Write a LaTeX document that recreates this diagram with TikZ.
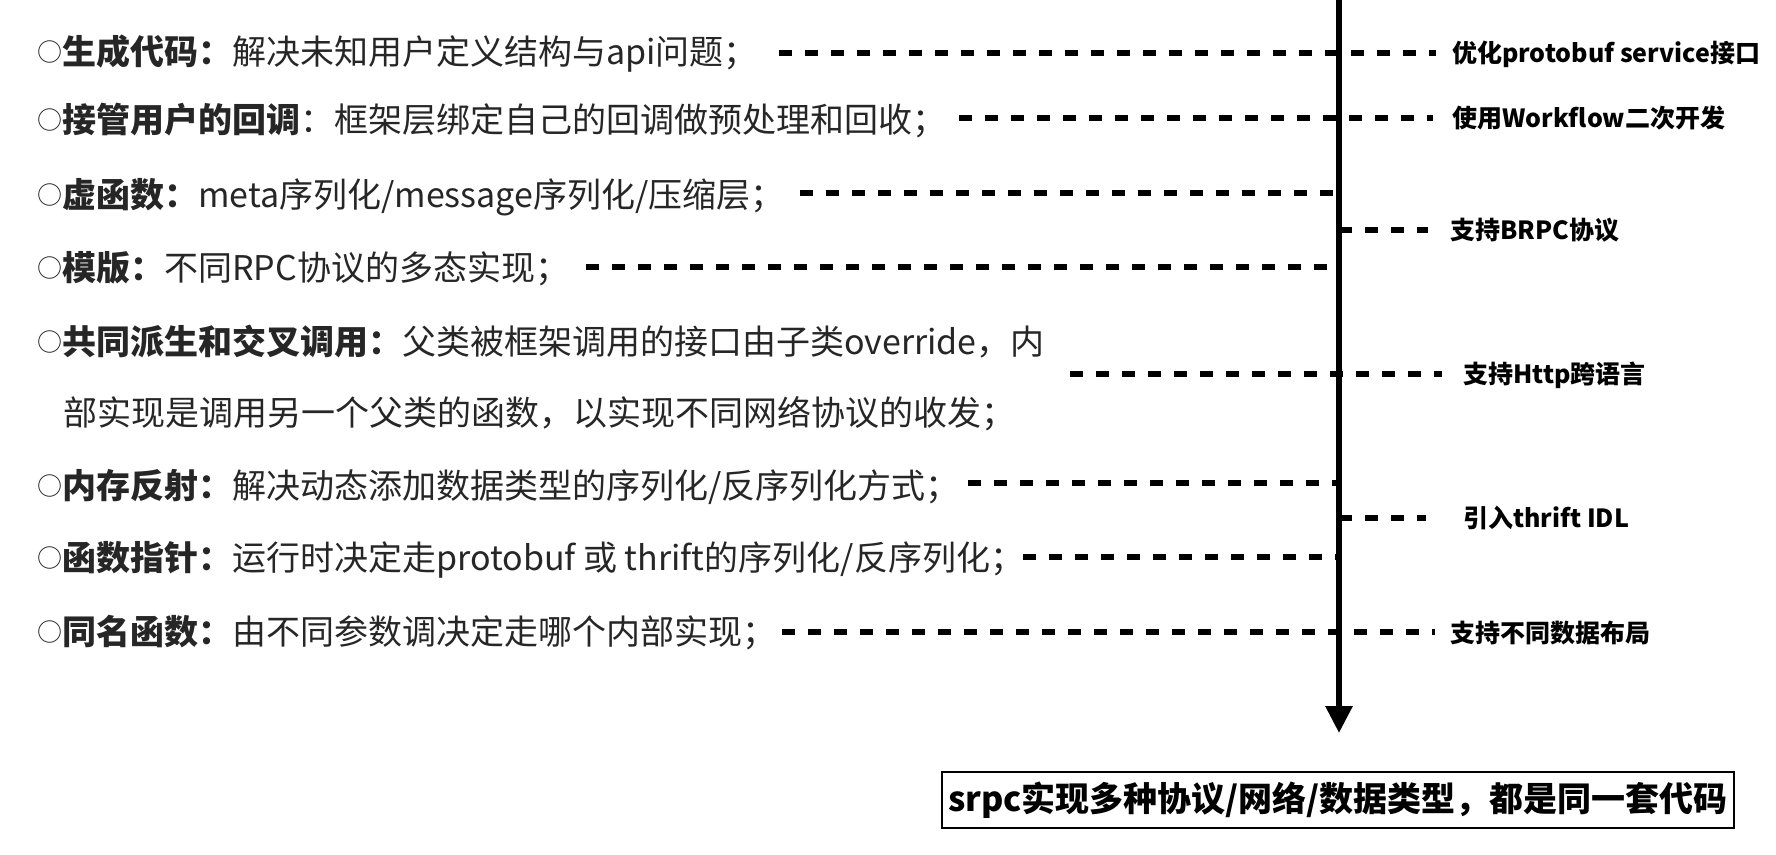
\documentclass[tikz,border=0pt]{standalone}
\usepackage{fontspec}
\setmainfont{Noto Sans CJK SC}
\usetikzlibrary{arrows.meta}
\newcommand{\bul}{\raisebox{3pt}{\fontsize{25}{25}\selectfont ○}}
\begin{document}
\begin{tikzpicture}[x=1pt,y=-1pt,
  item/.style={anchor=west, inner sep=0pt, text=black!85, font=\fontsize{34}{40}\selectfont, text height=30pt, text depth=4pt},
  lbl/.style={anchor=west, inner sep=0pt, font=\bfseries\fontsize{25}{30}\selectfont, text height=22pt, text depth=3pt},
  dashline/.style={line width=5.5pt, dash pattern=on 13pt off 13pt},
  mainline/.style={line width=6pt, -{Triangle[length=27pt,width=26pt]}},
  resultbox/.style={draw, line width=1.5pt, inner sep=0pt, minimum width=792pt, minimum height=56pt, font=\bfseries\fontsize{34}{40}\selectfont}]
\useasboundingbox (0,0) rectangle (1776,854);
% left items
\node[item] (t1) at (37,51) {\bul\textbf{生成代码：}解决未知用户定义结构与api问题；};
\node[item] (t2) at (37,119) {\bul\textbf{接管用户的回调}：框架层绑定自己的回调做预处理和回收；};
\node[item] (t3) at (37,194) {\bul\textbf{虚函数：}meta序列化/message序列化/压缩层；};
\node[item] (t4) at (37,267) {\bul\textbf{模版：}不同RPC协议的多态实现；};
\node[item] (t5) at (37,341) {\bul\textbf{共同派生和交叉调用：}父类被框架调用的接口由子类override，内};
\node[item] (t5b) at (63,412) {部实现是调用另一个父类的函数，以实现不同网络协议的收发；};
\node[item] (t6) at (37,485) {\bul\textbf{内存反射：}解决动态添加数据类型的序列化/反序列化方式；};
\node[item] (t7) at (37,557) {\bul\textbf{函数指针：}运行时决定走protobuf 或 thrift的序列化/反序列化；};
\node[item] (t8) at (37,631) {\bul\textbf{同名函数：}由不同参数调决定走哪个内部实现；};
% right labels
\node[lbl] (r1) at (1452,53) {优化protobuf service接口};
\node[lbl] (r2) at (1452,118) {使用Workflow二次开发};
\node[lbl] (r3) at (1450,230) {支持BRPC协议};
\node[lbl] (r4) at (1463,374) {支持Http跨语言};
\node[lbl] (r5) at (1463,518) {引入thrift IDL};
\node[lbl] (r6) at (1450,633) {支持不同数据布局};
% result box
\node[resultbox] (res) at (1338,800) {srpc实现多种协议/网络/数据类型，都是同一套代码};
% main arrow
\coordinate (top) at (1339,-5);
\coordinate (tip) at (1339,733);
\draw[mainline] (top) -- (tip);
% dash endpoints
\coordinate (a1) at (779,53);  \coordinate (b1) at (1436,53);
\coordinate (a2) at (959,118); \coordinate (b2) at (1433,118);
\coordinate (a3) at (800,193); \coordinate (b3) at (1334,193);
\coordinate (a4) at (1339,230); \coordinate (b4) at (1428,230);
\coordinate (a5) at (586,267); \coordinate (b5) at (1337,267);
\coordinate (a6) at (1070,374); \coordinate (b6) at (1442,374);
\coordinate (a7) at (968,483); \coordinate (b7) at (1337,483);
\coordinate (a8) at (1339,518); \coordinate (b8) at (1426,518);
\coordinate (a9) at (1023,557); \coordinate (b9) at (1337,557);
\coordinate (a10) at (782,632); \coordinate (b10) at (1435,632);
\foreach \i in {1,...,10} {\draw[dashline] (a\i) -- (b\i);}
\end{tikzpicture}
\end{document}
